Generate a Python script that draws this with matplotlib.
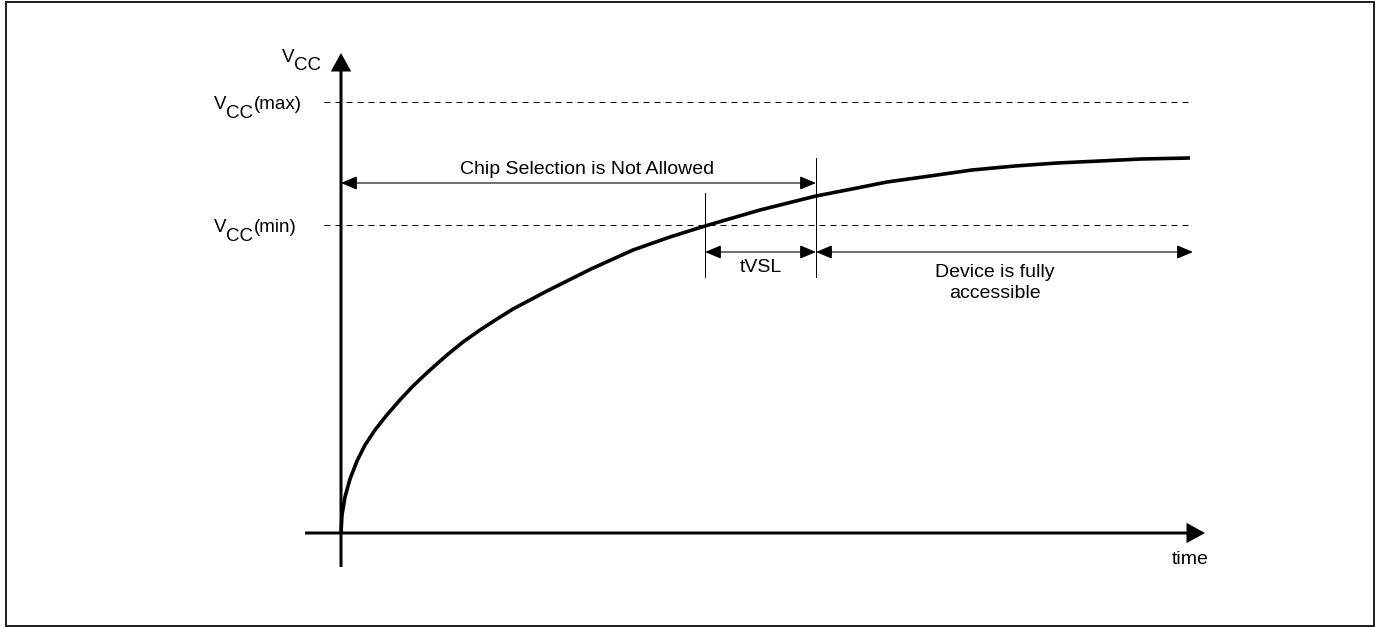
import matplotlib
matplotlib.use("Agg")
import matplotlib.pyplot as plt
from matplotlib.patches import FancyArrowPatch, Rectangle

plt.rcParams['font.family'] = ['Liberation Sans', 'DejaVu Sans']
plt.rcParams['lines.scale_dashes'] = False

# ---------------- data (time units / voltage units, origin at the axes crossing) -------------
curve_t = [0, 1, 4, 9, 16, 24, 34, 45, 58, 72, 89, 106, 122, 139, 156, 172, 189,
           206, 222, 250, 292, 329, 364, 419, 475, 511, 546, 589, 631, 674, 716,
           759, 800, 849]
curve_v = [0, 18, 36, 54, 72, 88, 103, 117, 132, 147, 163, 178, 191, 203, 214, 224, 233,
           242, 250, 264, 283, 296, 307, 323, 337, 344, 351, 357, 363, 367, 370,
           372, 374, 375]

level_names = ["(max)", "(min)"]
level_values = [431, 308]          # VCC(max), VCC(min)

t_vcc_min = 364                     # curve crosses VCC(min)
t_vsl_end = 475                     # end of tVSL
t_end = 852                         # right end of annotations

y_label_main = "V"
y_label_sub = "CC"
x_label = "time"
region_labels = ["Chip Selection is Not Allowed", "tVSL", "Device is fully\naccessible"]

# ---------------- figure ----------------
W, H = 1380, 627
fig = plt.figure(figsize=(W / 100, H / 100), dpi=100)
ax = fig.add_axes([0, 0, 1, 1])
ax.set_xlim(-341, W - 341)
ax.set_ylim(533 - H, 533)
ax.axis('off')

PX = 0.72  # one pixel in points
FS = 14

# outer frame
fig.add_artist(Rectangle((6 / W, 1 / H), (1374 - 6) / W, (625 - 1) / H,
                         transform=fig.transFigure, fill=False,
                         ec='#222222', lw=2 * PX))


def arrow(p0, p1, style, lw, hl, hw):
    a = FancyArrowPatch(p0, p1,
                        arrowstyle=f"{style},head_length={hl},head_width={hw}",
                        mutation_scale=1, lw=lw, color='black',
                        shrinkA=0, shrinkB=0, joinstyle='miter', capstyle='butt')
    ax.add_patch(a)


# axes
arrow((0, -34), (0, 480), '-|>', 3 * PX, 10, 5.5)
arrow((-36, 0), (864, 0), '-|>', 3 * PX, 10, 5.5)

# dashed levels
for lv in level_values:
    ax.plot([-17, t_end], [lv, lv], color='black', lw=1 * PX, dashes=(6 * PX, 5 * PX))

# curve
ax.plot(curve_t, curve_v, color='black', lw=3.6 * PX, solid_capstyle='butt',
        solid_joinstyle='round')

# marker lines
ax.plot([t_vcc_min, t_vcc_min], [256, 340], color='black', lw=1 * PX)
ax.plot([t_vsl_end, t_vsl_end], [256, 375], color='black', lw=1 * PX)

# dimension arrows
v_chip = 350
v_dim = 281
arrow((0, v_chip), (t_vsl_end, v_chip), '<|-|>', 1.1 * PX, 10, 4.2)
arrow((t_vcc_min, v_dim), (t_vsl_end, v_dim), '<|-|>', 1.1 * PX, 10, 4.2)
arrow((t_vsl_end, v_dim), (t_end, v_dim), '<|-|>', 1.1 * PX, 10, 4.2)

# region texts
ax.text(246, 363, region_labels[0], fontsize=FS, ha='center', va='center')
ax.text((t_vcc_min + t_vsl_end) / 2, 266, region_labels[1], fontsize=FS,
        ha='center', va='center')
ax.text(654, 250, region_labels[2], fontsize=FS, ha='center', va='center',
        linespacing=1.3)
ax.text(849, -27, x_label, fontsize=FS, ha='center', va='center')

# y-axis label
LFS = 13.5
ax.text(-59, 471, y_label_main, fontsize=LFS, ha='left', va='baseline')
ax.text(-47, 463, y_label_sub, fontsize=LFS, ha='left', va='baseline')

# level labels
for name, lv in zip(level_names, level_values):
    ax.text(-127, lv - 7, y_label_main, fontsize=LFS, ha='left', va='baseline')
    ax.text(-115, lv - 16, y_label_sub, fontsize=LFS, ha='left', va='baseline')
    ax.text(-87, lv - 7, name, fontsize=LFS, ha='left', va='baseline')

fig.savefig('out.png', dpi=100)
